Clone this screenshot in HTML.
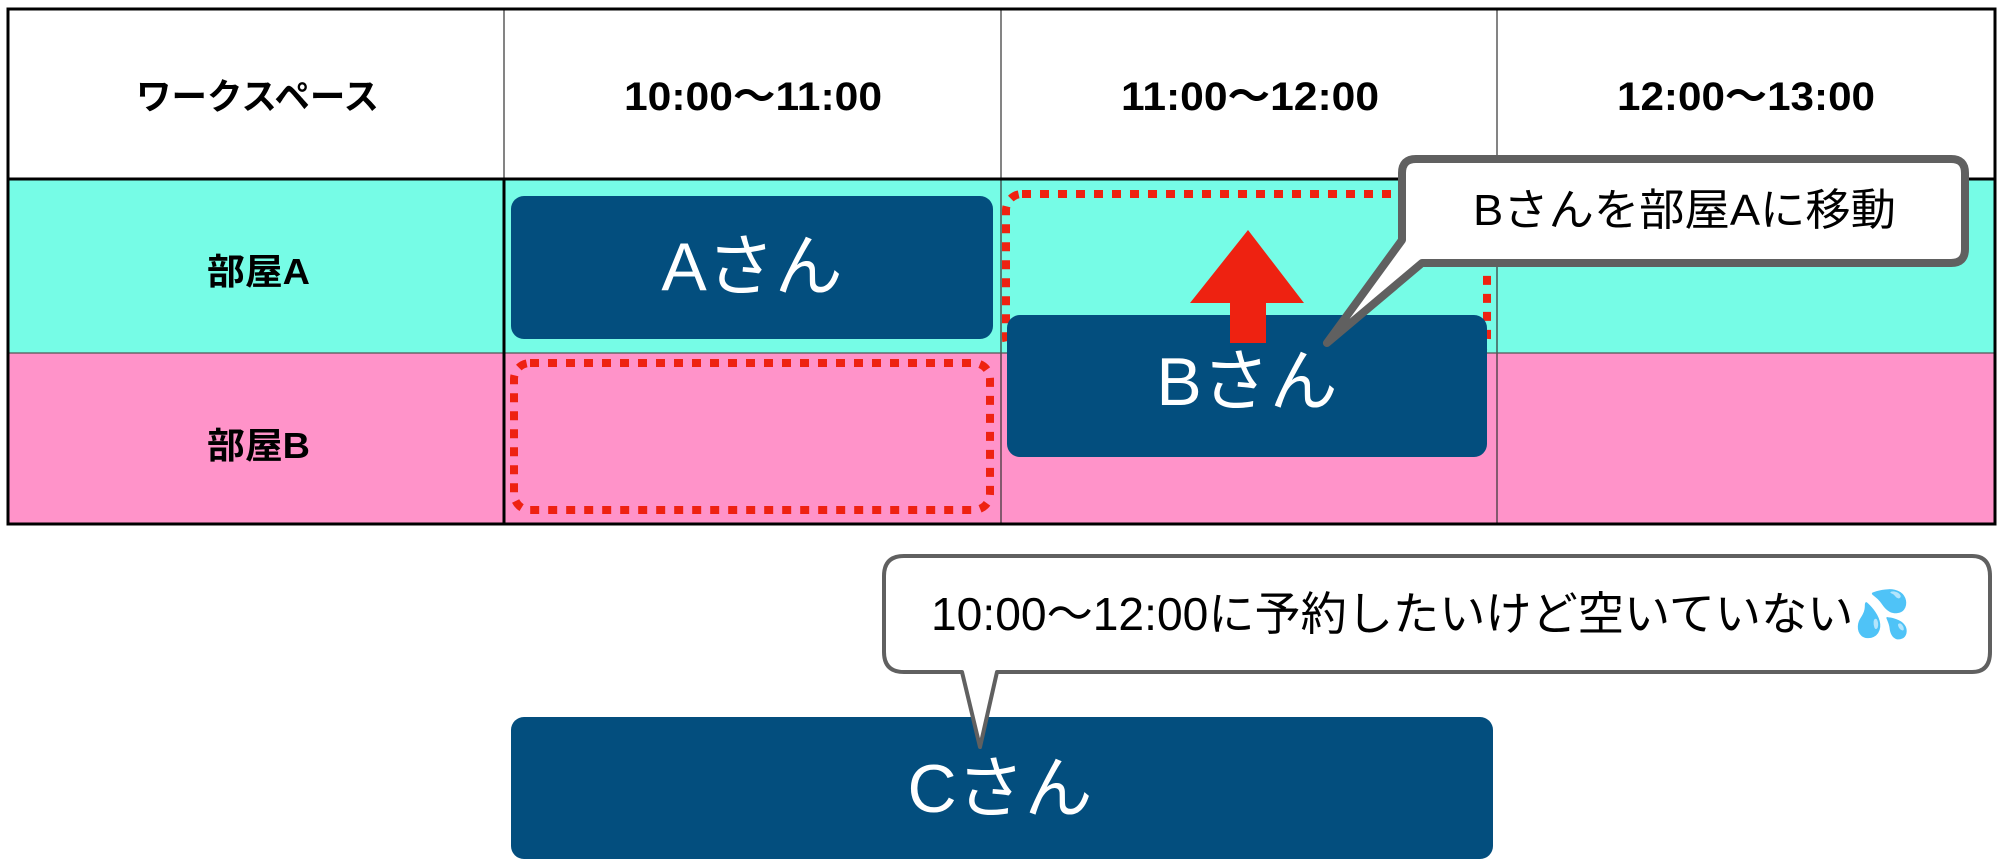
<!DOCTYPE html>
<html><head><meta charset="utf-8"><style>
html,body{margin:0;padding:0;background:#fff}
svg{display:block}
text{font-family:"Liberation Sans","Noto Sans CJK JP",sans-serif}
</style></head><body>
<svg width="1999" height="865" viewBox="0 0 1999 865" xmlns="http://www.w3.org/2000/svg">
<rect x="8" y="9" width="1987" height="170" fill="#fff"/>
<rect x="8" y="179" width="1987" height="174" fill="#76fce6"/>
<rect x="8" y="353" width="1987" height="171" fill="#ff93c9"/>
<g stroke="#333" stroke-width="1.2">
<line x1="504" y1="9" x2="504" y2="179"/>
<line x1="1001" y1="9" x2="1001" y2="524"/>
<line x1="1497" y1="9" x2="1497" y2="524"/>
<line x1="8" y1="353" x2="1995" y2="353" stroke="#555"/>
</g>
<line x1="504" y1="179" x2="504" y2="524" stroke="#000" stroke-width="3"/>
<line x1="8" y1="179" x2="1995" y2="179" stroke="#000" stroke-width="3"/>
<rect x="8" y="9" width="1987" height="515" fill="none" stroke="#000" stroke-width="3"/>
<g font-weight="bold" fill="#000" lengthAdjust="spacingAndGlyphs">
<text x="136" y="109" font-size="36" textLength="243" lengthAdjust="spacingAndGlyphs">ワークスペース</text>
<text x="624" y="110" font-size="40" textLength="258" lengthAdjust="spacingAndGlyphs">10:00〜11:00</text>
<text x="1121" y="110" font-size="40" textLength="258" lengthAdjust="spacingAndGlyphs">11:00〜12:00</text>
<text x="1617" y="110" font-size="40" textLength="258" lengthAdjust="spacingAndGlyphs">12:00〜13:00</text>
<text x="207" y="284" font-size="36" textLength="103" lengthAdjust="spacingAndGlyphs">部屋A</text>
<text x="207" y="458" font-size="36" textLength="103" lengthAdjust="spacingAndGlyphs">部屋B</text>
</g>
<rect x="511" y="196" width="482" height="143" rx="13" fill="#034e7e"/>
<text x="752" y="290" font-size="68" fill="#fff" text-anchor="middle">Aさん</text>
<rect x="514" y="363" width="476" height="147" rx="16" fill="none" stroke="#ee2211" stroke-width="8" stroke-dasharray="9 9"/>
<rect x="1006" y="194" width="481" height="160" rx="16" fill="none" stroke="#ee2211" stroke-width="8" stroke-dasharray="9 9"/>
<rect x="1007" y="315" width="480" height="142" rx="13" fill="#034e7e"/>
<text x="1247" y="405" font-size="68" fill="#fff" text-anchor="middle">Bさん</text>
<polygon points="1248,230 1304,303 1266,303 1266,343 1230,343 1230,303 1190,303" fill="#ee2211"/>
<path d="M1416,159 H1951 Q1965,159 1965,173 V249 Q1965,263 1951,263 H1422 L1327,343 L1402,240 V173 Q1402,159 1416,159 Z" fill="#fff" stroke="#606060" stroke-width="8" stroke-linejoin="round"/>
<text x="1473" y="225" font-size="44" fill="#000" textLength="423" lengthAdjust="spacingAndGlyphs">Bさんを部屋Aに移動</text>
<rect x="511" y="717" width="982" height="142" rx="13" fill="#034e7e"/>
<text x="1000" y="812" font-size="68" fill="#fff" text-anchor="middle">Cさん</text>
<path d="M904,556 H1972 Q1990,556 1990,576 V652 Q1990,672 1972,672 H997 L980,747 L962,672 H904 Q884,672 884,652 V576 Q884,556 904,556 Z" fill="#fff" stroke="#606060" stroke-width="4" stroke-linejoin="round"/>
<text x="931" y="630" font-size="46" fill="#000" textLength="980" lengthAdjust="spacingAndGlyphs">10:00〜12:00に予約したいけど空いていない<tspan fill="#3aa8f0">💦</tspan></text>
</svg>
</body></html>
